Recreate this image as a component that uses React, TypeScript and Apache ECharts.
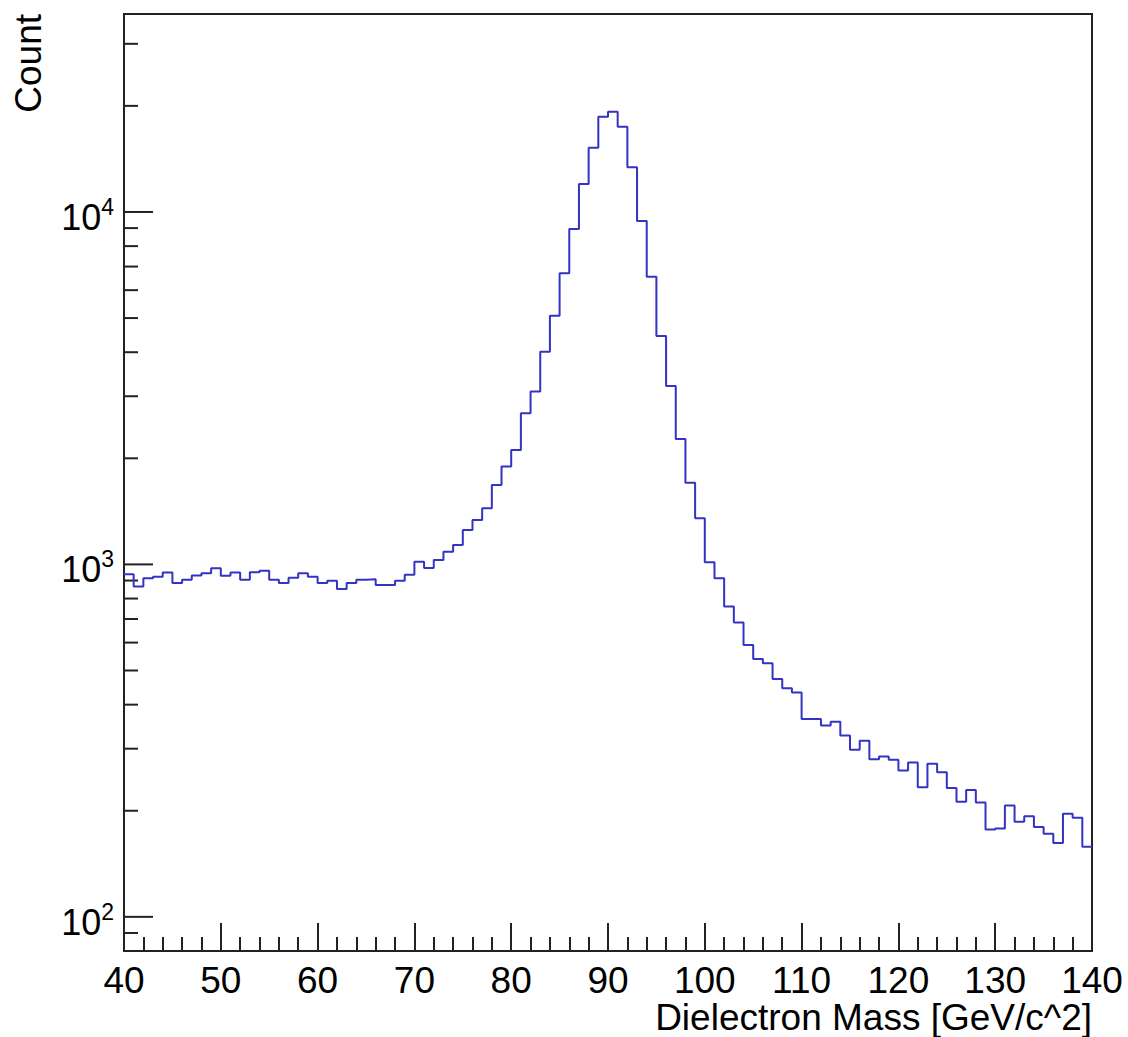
import React, { useEffect, useRef } from "react";
import * as echarts from "echarts";

// Histogram: dielectron invariant mass, 1 GeV bins from 40 to 140
const binLow = 40;
const binWidth = 1;
const xMin = 40;
const xMax = 140;
const counts = [
  938, 865, 914, 923, 948, 885, 904, 930, 944, 975,
  928, 948, 904, 950, 960, 904, 885, 917, 944, 923,
  885, 898, 851, 885, 904, 908, 874, 874, 898, 934,
  1018, 976, 1030, 1087, 1136, 1253, 1337, 1443, 1681, 1895,
  2113, 2685, 3092, 4014, 5080, 6700, 8950, 12000, 15210, 18630,
  19260, 17460, 13390, 9420, 6553, 4447, 3210, 2270, 1706, 1352,
  1014, 914, 759, 684, 591, 539, 524, 473, 445, 433,
  364, 364, 349, 358, 327, 298, 316, 280, 285, 279,
  260, 274, 233, 272, 257, 232, 212, 229, 211, 177,
  178, 207, 186, 193, 180, 172, 162, 196, 191, 158,
];
const yMin = 80;
const yMax = 36450;
const yMajorTicks = [100, 1000, 10000];
const yMinorTicks = [
  80, 90,
  200, 300, 400, 500, 600, 700, 800, 900,
  2000, 3000, 4000, 5000, 6000, 7000, 8000, 9000,
  20000, 30000,
];
const xTitle = "Dielectron Mass [GeV/c^2]";
const yTitle = "Count";

const FONT = "'Liberation Sans', Arial, Helvetica, sans-serif";
const AXIS = "#222";
const LINE = "#3333c4";

export default function App() {
  const ref = useRef<HTMLDivElement>(null);

  useEffect(() => {
    if (!ref.current) return;
    const chart = echarts.init(ref.current, null, { renderer: "svg" });

    const stepData: number[][] = counts.map((c, i) => [binLow + i * binWidth, c]);
    stepData.push([binLow + counts.length * binWidth, counts[counts.length - 1]]);

    const tickData = [
      ...yMajorTicks.map((v) => [xMin, v, 1]),
      ...yMinorTicks.map((v) => [xMin, v, 0]),
    ];

    chart.setOption({
      animation: false,
      backgroundColor: "#fff",
      grid: {
        left: 124,
        right: 36,
        top: 14,
        bottom: 86,
        show: true,
        borderColor: AXIS,
        borderWidth: 2,
        backgroundColor: "transparent",
      },
      xAxis: {
        type: "value",
        min: xMin,
        max: xMax,
        interval: 10,
        axisLine: { show: true, lineStyle: { color: AXIS, width: 2 } },
        axisTick: { show: true, inside: true, length: 28, lineStyle: { color: AXIS, width: 2 } },
        minorTick: { show: true, splitNumber: 5, length: 14, lineStyle: { color: AXIS, width: 2 } },
        splitLine: { show: false },
        minorSplitLine: { show: false },
        axisLabel: {
          fontSize: 37,
          lineHeight: 34,
          fontFamily: FONT,
          color: "#000",
          margin: 12,
          showMinLabel: true,
          showMaxLabel: true,
        },
      },
      yAxis: {
        type: "log",
        logBase: 10,
        min: yMin,
        max: yMax,
        splitNumber: 3,
        axisLine: { show: true, lineStyle: { color: AXIS, width: 2 } },
        axisTick: { show: false },
        splitLine: { show: false },
        axisLabel: {
          margin: 10,
          color: "#000",
          padding: [7, 0, 0, 0],
          formatter: (v: number) => {
            const l = Math.log10(v);
            const e = Math.round(l);
            if (Math.abs(l - e) > 1e-6) return "";
            return `{b|10}{s|${e}}`;
          },
          rich: {
            b: { fontSize: 36, fontFamily: FONT, color: "#000", verticalAlign: "bottom", lineHeight: 40 },
            s: { fontSize: 23, fontFamily: FONT, color: "#000", verticalAlign: "top", lineHeight: 40 },
          },
        },
      },
      graphic: [
        {
          type: "text",
          x: 1092,
          y: 1017,
          style: {
            text: xTitle,
            font: `37px ${FONT}`,
            lineHeight: 30,
            fill: "#000",
            align: "right",
            verticalAlign: "middle",
          },
        },
        {
          type: "text",
          x: 28,
          y: 14,
          rotation: Math.PI / 2,
          style: {
            text: yTitle,
            font: `37px ${FONT}`,
            fill: "#000",
            align: "right",
            verticalAlign: "middle",
          },
        },
      ],
      series: [
        {
          type: "line",
          data: stepData,
          step: "end",
          showSymbol: false,
          symbol: "none",
          lineStyle: { color: LINE, width: 2 },
          clip: true,
          silent: true,
        },
        {
          type: "custom",
          data: tickData,
          encode: { x: 0, y: 1 },
          silent: true,
          clip: false,
          renderItem: (params: any, api: any) => {
            const v = api.value(1);
            const major = api.value(2);
            const p = api.coord([xMin, v]);
            const len = major ? 29 : 14;
            return {
              type: "line",
              shape: { x1: p[0], y1: p[1], x2: p[0] + len, y2: p[1] },
              style: { stroke: AXIS, lineWidth: 2 },
            };
          },
        },
      ],
    });

    return () => chart.dispose();
  }, []);

  return (
    <div
      ref={ref}
      style={{ position: "fixed", left: 0, top: 0, width: 1128, height: 1037, background: "#fff" }}
    />
  );
}
